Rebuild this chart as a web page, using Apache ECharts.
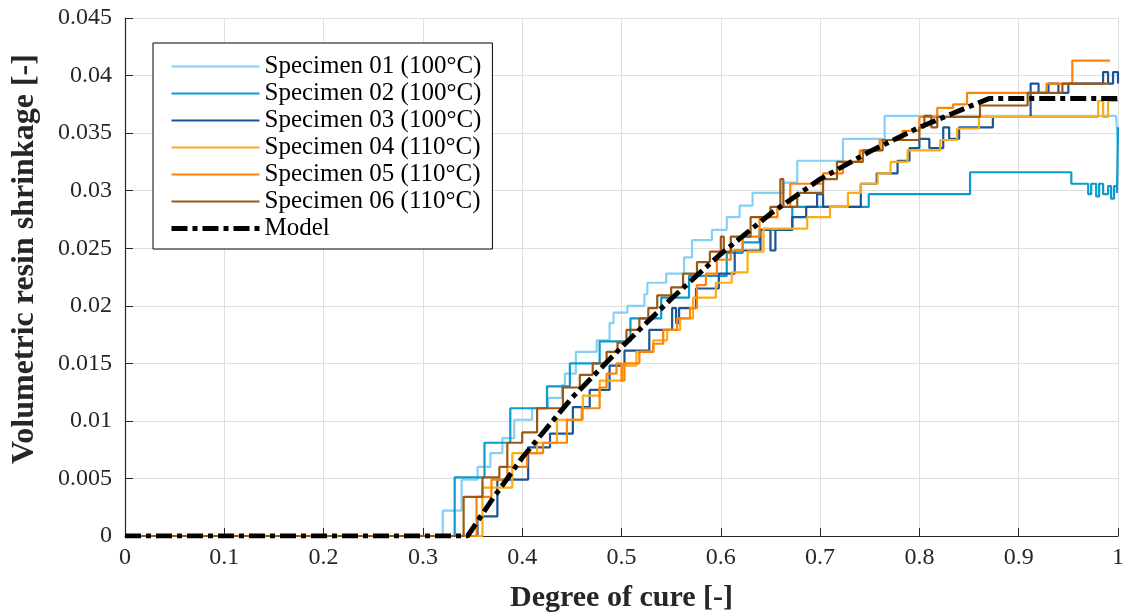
<!DOCTYPE html>
<html>
<head>
<meta charset="utf-8">
<script src="https://cdn.jsdelivr.net/npm/echarts@6/dist/echarts.min.js"></script>
<style>html,body{margin:0;padding:0;background:#fff}#c{width:1127px;height:615px}</style>
</head>
<body>
<div id="c"></div>
<script>
// ---- data: [degree of cure, volumetric shrinkage] at each step ----
const xTicks = [0, 0.1, 0.2, 0.3, 0.4, 0.5, 0.6, 0.7, 0.8, 0.9, 1];
const yTicks = [0, 0.005, 0.01, 0.015, 0.02, 0.025, 0.03, 0.035, 0.04, 0.045];
const seriesNames = ['Specimen 01 (100°C)', 'Specimen 02 (100°C)', 'Specimen 03 (100°C)',
  'Specimen 04 (110°C)', 'Specimen 05 (110°C)', 'Specimen 06 (110°C)', 'Model'];

const spec01 = [[0,0],[0.320,0.0022],[0.339,0.0049],[0.355,0.006],[0.368,0.0072],[0.380,0.0085],
  [0.392,0.0101],[0.410,0.0111],[0.426,0.012],[0.440,0.0131],[0.443,0.0141],[0.454,0.016],
  [0.475,0.017],[0.488,0.0185],[0.492,0.0194],[0.506,0.020],[0.523,0.021],[0.526,0.022],
  [0.545,0.0228],[0.563,0.0242],[0.571,0.0257],[0.591,0.0266],[0.606,0.0277],[0.619,0.0287],
  [0.632,0.0298],[0.663,0.0307],[0.677,0.0326],[0.723,0.0345],[0.765,0.0365],[0.998,0.0365],[1.0,0.034]];

const spec02 = [[0,0],[0.332,0.0051],[0.362,0.0081],[0.388,0.0111],[0.425,0.013],[0.448,0.015],
  [0.478,0.0169],[0.509,0.0189],[0.540,0.0207],[0.568,0.0226],[0.606,0.0246],[0.622,0.0255],
  [0.639,0.0266],[0.672,0.0286],[0.749,0.0297],[0.851,0.0316],[0.953,0.0306],[0.970,0.0297],
  [0.973,0.0306],[0.978,0.0295],[0.981,0.0306],[0.985,0.0297],[0.990,0.0304],[0.993,0.0293],
  [0.996,0.0304],[0.999,0.0298],[1.0,0.0355]];

const spec03 = [[0,0],[0.355,0.0017],[0.375,0.0049],[0.406,0.0077],[0.428,0.0089],[0.451,0.0112],
  [0.468,0.0127],[0.488,0.0148],[0.503,0.0161],[0.528,0.0179],[0.551,0.0198],[0.555,0.0185],
  [0.558,0.0198],[0.575,0.0215],[0.598,0.0228],[0.614,0.0248],[0.640,0.0266],[0.650,0.0248],
  [0.655,0.0266],[0.672,0.0277],[0.686,0.0286],[0.697,0.0297],[0.703,0.0286],[0.741,0.0306],
  [0.757,0.0315],[0.778,0.0326],[0.790,0.0337],[0.800,0.0345],[0.810,0.0337],[0.824,0.0355],
  [0.830,0.0345],[0.840,0.0355],[0.874,0.0364],[0.912,0.0393],[0.920,0.0385],[0.930,0.0393],
  [0.940,0.0385],[0.950,0.0393],[0.985,0.0403],[0.990,0.0393],[0.995,0.0403],[1.0,0.0393]];

const spec04 = [[0,0],[0.360,0.0042],[0.390,0.0072],[0.415,0.0081],[0.435,0.0101],[0.461,0.0122],
  [0.478,0.0135],[0.501,0.0148],[0.515,0.016],[0.532,0.0170],[0.546,0.0179],[0.559,0.0189],
  [0.572,0.0207],[0.595,0.022],[0.611,0.0229],[0.627,0.0247],[0.643,0.0267],[0.687,0.0277],
  [0.710,0.0286],[0.728,0.0298],[0.741,0.0306],[0.758,0.0315],[0.771,0.0325],[0.788,0.0335],
  [0.821,0.0344],[0.838,0.0354],[0.860,0.0364],[0.980,0.0378],[0.985,0.0364],[0.990,0.0378],[1.0,0.0378]];

const spec05 = [[0,0],[0.354,0.0034],[0.369,0.0049],[0.385,0.006],[0.405,0.0072],[0.421,0.0081],
  [0.445,0.0101],[0.460,0.0111],[0.478,0.0129],[0.485,0.0141],[0.495,0.015],[0.500,0.0135],
  [0.503,0.015],[0.518,0.016],[0.532,0.0167],[0.542,0.0179],[0.556,0.0189],[0.569,0.0198],
  [0.576,0.0218],[0.585,0.0228],[0.596,0.024],[0.610,0.0248],[0.622,0.026],[0.639,0.0277],
  [0.657,0.0286],[0.670,0.0306],[0.703,0.0315],[0.723,0.0325],[0.740,0.0335],[0.760,0.0344],
  [0.783,0.0352],[0.800,0.0364],[0.818,0.0372],[0.834,0.0375],[0.848,0.0385],[0.928,0.0393],
  [0.954,0.0413],[0.992,0.0413]];

const spec06 = [[0,0],[0.341,0.0034],[0.360,0.0051],[0.377,0.006],[0.385,0.0081],[0.400,0.009],
  [0.415,0.0111],[0.441,0.0129],[0.458,0.014],[0.471,0.015],[0.485,0.016],[0.496,0.0168],
  [0.505,0.0179],[0.518,0.0189],[0.527,0.0198],[0.536,0.0209],[0.550,0.0216],[0.562,0.0228],
  [0.576,0.0238],[0.589,0.0247],[0.600,0.026],[0.603,0.0247],[0.610,0.026],[0.630,0.0277],
  [0.650,0.0286],[0.660,0.031],[0.663,0.0286],[0.677,0.0298],[0.703,0.031],[0.717,0.0325],
  [0.743,0.0335],[0.763,0.0344],[0.800,0.0355],[0.805,0.0365],[0.812,0.0355],[0.818,0.0364],
  [0.861,0.0374],[0.909,0.0385],[0.944,0.0393],[0.992,0.0393]];

const model = [[0,0],[0.345,0],[0.37,0.0032],[0.40,0.0068],[0.45,0.0120],[0.50,0.0164],
  [0.55,0.0206],[0.60,0.0245],[0.65,0.0280],[0.70,0.0310],[0.75,0.0334],[0.80,0.0355],
  [0.85,0.0373],[0.87,0.0380],[1.0,0.0380]];

const colors = ['#86cff5', '#0a9bd0', '#1a5598', '#ffab14', '#ff8205', '#9b5812', '#000000'];

const FONT = 'Liberation Serif';
const specData = [spec01, spec02, spec03, spec04, spec05, spec06];
const fmt = v => String(parseFloat(v.toFixed(4)));

const series = specData.map((d, i) => ({
  name: seriesNames[i], type: 'line', data: d, step: 'end',
  symbol: 'none', silent: true, animation: false,
  lineStyle: { color: colors[i], width: 2.2 }, itemStyle: { color: colors[i] }
}));
series.push({
  name: seriesNames[6], type: 'line', data: model, smooth: false,
  symbol: 'none', silent: true, animation: false, z: 5,
  lineStyle: { color: '#000', width: 5, type: [16, 5, 5, 5] }, itemStyle: { color: '#000' }
});

const chart = echarts.init(document.getElementById('c'), null, { renderer: 'canvas' });
chart.setOption({
  animation: false,
  backgroundColor: '#fff',
  textStyle: { fontFamily: FONT },
  grid: { left: 125, right: 9, top: 18, bottom: 79, containLabel: false, outerBoundsMode: 'none' },
  legend: {
    orient: 'vertical', left: 153, top: 43,
    data: seriesNames,
    backgroundColor: '#fff', borderColor: '#000', borderWidth: 1,
    padding: [10, 11, 7, 16], itemGap: 0, itemWidth: 88, itemHeight: 14,
    itemStyle: { opacity: 0 },
    lineStyle: { width: 'inherit' },
    textStyle: { fontFamily: FONT, fontSize: 25, color: '#000', lineHeight: 27 },
    selectedMode: false
  },
  xAxis: {
    type: 'value', min: 0, max: 1, interval: 0.1,
    name: 'Degree of cure [-]', nameLocation: 'middle', nameGap: 47,
    nameTextStyle: { fontFamily: FONT, fontSize: 30, fontWeight: 'bold', color: '#262626' },
    axisLine: { show: true, lineStyle: { color: '#262626', width: 1.2 } },
    axisTick: { show: true, inside: true, length: 8, lineStyle: { color: '#262626' } },
    axisLabel: { fontFamily: FONT, fontSize: 24, color: '#262626', margin: 10, formatter: fmt },
    splitLine: { show: true, lineStyle: { color: '#dedede', width: 1 } }
  },
  yAxis: {
    type: 'value', min: 0, max: 0.045, interval: 0.005,
    name: 'Volumetric resin shrinkage [-]', nameLocation: 'middle', nameGap: 84,
    nameTextStyle: { fontFamily: FONT, fontSize: 32, fontWeight: 'bold', color: '#262626', padding: [0, 0, 0, 36] },
    axisLine: { show: true, lineStyle: { color: '#262626', width: 1.2 } },
    axisTick: { show: true, inside: true, length: 8, lineStyle: { color: '#262626' } },
    axisLabel: { fontFamily: FONT, fontSize: 24, color: '#262626', margin: 13, formatter: fmt },
    splitLine: { show: true, lineStyle: { color: '#dedede', width: 1 } }
  },
  series: series
});
</script>
</body>
</html>
